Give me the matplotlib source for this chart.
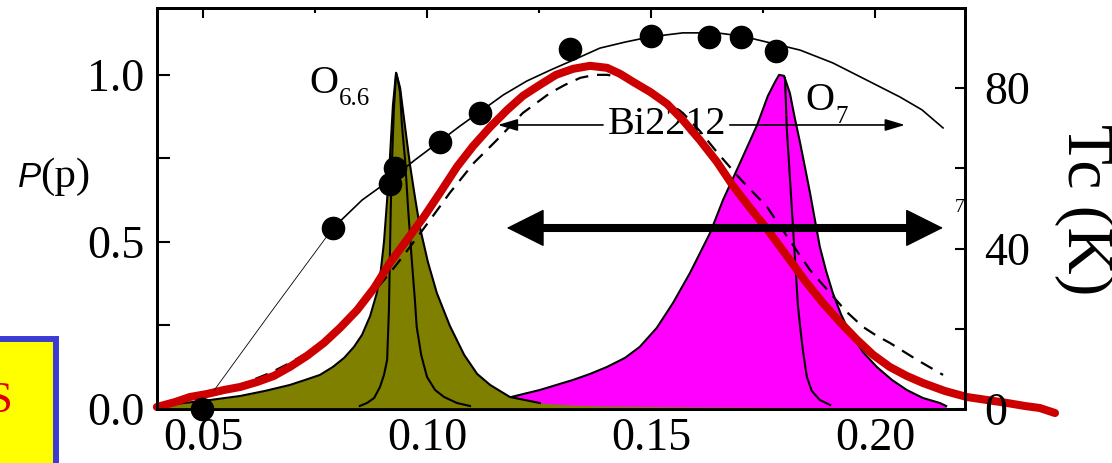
import matplotlib
matplotlib.use("Agg")
import matplotlib.pyplot as plt
import matplotlib.ticker as mticker
from matplotlib.patches import Rectangle

plt.rcParams.update({
    "font.family": ["Liberation Serif", "DejaVu Serif"],
    "axes.linewidth": 2.0,
})

OLIVE = "#808000"
MAGENTA = "#FF00FF"
RED = "#CC0000"
BLUE = "#3C3CD2"

# ── DATA (doping p on x) ──────────────────────────────────────────────────────
# red thick curve, P(p)
red_p = [0.0397, 0.0438, 0.0471, 0.0509, 0.0547, 0.0583, 0.0621, 0.0658, 0.0694,
         0.0732, 0.0770, 0.0806, 0.0844, 0.0882, 0.0917, 0.0955, 0.0993, 0.1029,
         0.1067, 0.1103, 0.1141, 0.1179, 0.1214, 0.1252, 0.1288, 0.1326, 0.1364,
         0.1402, 0.1431, 0.1460, 0.1498, 0.1536, 0.1571, 0.1609, 0.1647, 0.1683,
         0.1721, 0.1759, 0.1810, 0.1846, 0.1884, 0.1922, 0.1960, 0.1996, 0.2033,
         0.2071, 0.2107, 0.2156, 0.2205, 0.2250, 0.2295, 0.2335, 0.2368, 0.2402]
red_P = [0.006, 0.021, 0.036, 0.045, 0.057, 0.066, 0.081, 0.099, 0.126,
         0.159, 0.198, 0.243, 0.296, 0.362, 0.437, 0.506, 0.575, 0.647,
         0.725, 0.787, 0.844, 0.895, 0.937, 0.970, 1.000, 1.018, 1.027,
         1.021, 1.003, 0.979, 0.949, 0.913, 0.865, 0.805, 0.740, 0.668,
         0.602, 0.539, 0.446, 0.380, 0.317, 0.260, 0.207, 0.162, 0.126,
         0.099, 0.078, 0.054, 0.036, 0.027, 0.018, 0.009, 0.003, -0.012]

# dashed curve, P(p)
dash_p = [0.0426, 0.0493, 0.0583, 0.0650, 0.0694, 0.0732, 0.0761, 0.0792, 0.0828,
          0.0866, 0.0904, 0.0933, 0.0962, 0.1007, 0.1051, 0.1105, 0.1156, 0.1214,
          0.1275, 0.1308, 0.1342, 0.1375, 0.1402, 0.1431, 0.1460, 0.1491, 0.1520,
          0.1571, 0.1609, 0.1647, 0.1699, 0.1759, 0.1806, 0.1855, 0.1900, 0.1935,
          0.1973, 0.2004, 0.2033, 0.2094, 0.2152]
dash_P = [0.018, 0.039, 0.072, 0.108, 0.138, 0.168, 0.195, 0.228, 0.272,
          0.326, 0.386, 0.434, 0.485, 0.566, 0.647, 0.737, 0.805, 0.886,
          0.946, 0.970, 0.991, 1.000, 1.000, 0.994, 0.982, 0.961, 0.934,
          0.886, 0.832, 0.769, 0.689, 0.605, 0.512, 0.416, 0.347, 0.293,
          0.246, 0.219, 0.198, 0.147, 0.102]

# O6.6 distribution (olive) and its narrow component
olive_p = [0.0397, 0.0458, 0.0516, 0.0583, 0.0638, 0.0694, 0.0728, 0.0761, 0.0790,
           0.0815, 0.0837, 0.0855, 0.0873, 0.0888, 0.0897, 0.0904, 0.0911, 0.0917,
           0.0924, 0.0931, 0.0940, 0.0949, 0.0962, 0.0973, 0.0984, 0.1002, 0.1022,
           0.1051, 0.1083, 0.1112, 0.1141, 0.1185, 0.1252, 0.1319, 0.1386, 0.1609,
           0.2145]
olive_P = [0.009, 0.018, 0.027, 0.039, 0.054, 0.072, 0.087, 0.102, 0.126,
           0.153, 0.186, 0.222, 0.278, 0.347, 0.416, 0.500, 0.626, 0.746,
           0.910, 1.006, 0.961, 0.865, 0.731, 0.635, 0.545, 0.440, 0.347,
           0.249, 0.162, 0.105, 0.072, 0.036, 0.018, 0.012, 0.009, 0.006,
           0.003]
in66_p = [0.0850, 0.0866, 0.0882, 0.0895, 0.0904, 0.0911, 0.0915, 0.0917, 0.0919,
          0.0922, 0.0926, 0.0931, 0.0935, 0.0940, 0.0944, 0.0951, 0.0958, 0.0966,
          0.0973, 0.0977, 0.0987, 0.1000, 0.1018, 0.1038, 0.1067, 0.1096]
in66_P = [0.009, 0.018, 0.033, 0.066, 0.102, 0.147, 0.296, 0.446, 0.596,
          0.746, 0.895, 1.006, 0.985, 0.946, 0.850, 0.746, 0.596, 0.446,
          0.326, 0.246, 0.162, 0.096, 0.057, 0.036, 0.018, 0.009]

# O7 distribution (magenta) and its narrow component
mag_p = [0.1029, 0.1107, 0.1179, 0.1252, 0.1326, 0.1364, 0.1402, 0.1442, 0.1475,
         0.1513, 0.1549, 0.1587, 0.1632, 0.1661, 0.1699, 0.1737, 0.1761, 0.1777,
         0.1786, 0.1797, 0.1810, 0.1821, 0.1833, 0.1844, 0.1855, 0.1866, 0.1877,
         0.1891, 0.1906, 0.1924, 0.1944, 0.1973, 0.2004, 0.2038, 0.2071, 0.2107,
         0.2145, 0.2159]
mag_P = [0.012, 0.021, 0.033, 0.057, 0.087, 0.105, 0.126, 0.153, 0.186,
         0.243, 0.317, 0.407, 0.527, 0.626, 0.737, 0.850, 0.937, 0.979,
         1.000, 0.997, 0.946, 0.871, 0.796, 0.722, 0.647, 0.566, 0.485,
         0.413, 0.347, 0.284, 0.228, 0.171, 0.126, 0.087, 0.057, 0.033,
         0.018, 0.009]
in7_p = [0.1799, 0.1801, 0.1803, 0.1810, 0.1817, 0.1824, 0.1828, 0.1833, 0.1839,
         0.1848, 0.1859, 0.1877, 0.1900]
in7_P = [0.991, 0.925, 0.844, 0.695, 0.545, 0.395, 0.311, 0.246, 0.177,
         0.096, 0.054, 0.027, 0.012]

# Tc dome (right axis)
dome_p = [0.0525, 0.0650, 0.0790, 0.0855, 0.0917, 0.0973, 0.1029, 0.1074, 0.1118,
          0.1170, 0.1223, 0.1275, 0.1326, 0.1386, 0.1442, 0.1498, 0.1571, 0.1647,
          0.1703, 0.1759, 0.1833, 0.1906, 0.1982, 0.2056, 0.2105, 0.2152]
dome_Tc = [4.7, 23.9, 45.1, 52.1, 57.1, 62.1, 66.8, 70.6, 74.1,
           78.3, 81.8, 84.5, 87.0, 90.0, 91.5, 92.8, 93.8, 93.8,
           93.0, 91.5, 89.5, 86.3, 82.0, 77.8, 74.6, 70.1]
dot_p = [0.0498, 0.0790, 0.0917, 0.0928, 0.1029, 0.1118, 0.1319, 0.1500, 0.1629,
         0.1701, 0.1779]
dot_Tc = [0.0, 45.1, 56.1, 60.1, 66.6, 73.8, 89.8, 93.0, 92.8, 92.8, 89.3]

x_ticks = [0.05, 0.10, 0.15, 0.20]
p_ticks = [0.0, 0.5, 1.0]
tc_ticks = [0, 40, 80]

# annotation anchors
bi_arrow_left = (0.1393, 0.1158)    # text edge -> tip
bi_arrow_right = (0.1676, 0.2067)
bi_y = 0.850
range_arrow = (0.1178, 0.2152)
range_y = 0.542

# ── FIGURE ────────────────────────────────────────────────────────────────────
fig = plt.figure(figsize=(11.12, 4.63), dpi=100)
ax = fig.add_axes([0.1412, 0.1166, 0.7266, 0.8661])
ax2 = ax.twinx()

# distributions
ax.fill_between(mag_p, mag_P, 0, color=MAGENTA, lw=0, zorder=2)
ax.plot(mag_p, mag_P, color="k", lw=1.5, zorder=2.1)
ax.plot(in7_p, in7_P, color="k", lw=1.5, zorder=2.2)
ax.fill_between(olive_p, olive_P, 0, color=OLIVE, lw=0, zorder=3)
ax.plot(olive_p[:33], olive_P[:33], color="k", lw=1.5, zorder=3.1)
ax.plot(in66_p, in66_P, color="k", lw=1.5, zorder=3.2)

ax.plot(dash_p, dash_P, color="k", lw=1.6, linestyle=(0, (6, 4)), zorder=4)
ax.plot(red_p, red_P, color=RED, lw=5.8, solid_capstyle="round",
        solid_joinstyle="round", zorder=5, clip_on=False)

# Bi2212 range arrows
ax.text(0.1536, bi_y, "Bi2212", fontsize=29, ha="center", va="center", zorder=4.5)
for x0, x1 in (bi_arrow_left, bi_arrow_right):
    ax.annotate("", xy=(x1, bi_y), xytext=(x0, bi_y),
                arrowprops=dict(arrowstyle="-|>,head_length=0.6,head_width=0.18",
                                lw=1.2, color="k", mutation_scale=20,
                                shrinkA=0, shrinkB=0), zorder=6)

# thick double arrow
ax.plot([range_arrow[0] + 0.006, range_arrow[1] - 0.006], [range_y, range_y],
        color="k", lw=5.8, solid_capstyle="butt", zorder=6)
ax.annotate("", xy=(range_arrow[1], range_y), xytext=(range_arrow[0], range_y),
            arrowprops=dict(arrowstyle="<|-|>,head_length=1.0,head_width=0.5",
                            lw=1.0, color="k", mutation_scale=25,
                            shrinkA=0, shrinkB=0), zorder=6)

# labels of the two distributions
ax.text(0.0737, 0.946, "O", fontsize=29, va="baseline")
ax.text(0.0803, 0.910, "6.6", fontsize=18, va="baseline")
ax.text(0.1844, 0.895, "O", fontsize=29, va="baseline")
ax.text(0.1911, 0.856, "7", fontsize=18, va="baseline")
ax.text(0.2178, 0.602, "7", fontsize=14, va="center")

# Tc dome + data
ax2.plot(dome_p[:3], dome_Tc[:3], color="k", lw=0.6, zorder=3)
ax2.plot(dome_p[2:], dome_Tc[2:], color="k", lw=1.2, zorder=3)
ax2.plot(dot_p, dot_Tc, "o", color="k", ms=16, clip_on=False, zorder=5)

# ── AXES ──────────────────────────────────────────────────────────────────────
ax.set_xlim(0.03973, 0.2201)
ax.set_ylim(0, 1.2)
ax2.set_ylim(0, 100)

ax.xaxis.set_major_locator(mticker.FixedLocator(x_ticks))
ax.xaxis.set_minor_locator(mticker.MultipleLocator(0.025))
ax.xaxis.set_major_formatter(mticker.FormatStrFormatter("%.2f"))
ax.yaxis.set_major_locator(mticker.FixedLocator(p_ticks))
ax.yaxis.set_minor_locator(mticker.MultipleLocator(0.25))
ax.yaxis.set_major_formatter(mticker.FormatStrFormatter("%.1f"))
ax2.yaxis.set_major_locator(mticker.FixedLocator(tc_ticks))
ax2.yaxis.set_minor_locator(mticker.FixedLocator([20, 60]))

ax.tick_params(axis="x", which="major", direction="in", length=7, width=1.5,
               top=True, labelsize=33, pad=6)
ax.tick_params(axis="x", which="minor", direction="in", length=3.5, width=1.5, top=True)
ax.tick_params(axis="y", which="both", direction="in", length=9.4, width=1.5,
               right=False, labelsize=33, pad=9)
ax2.tick_params(axis="y", which="both", direction="in", length=7.5, width=1.5,
                labelsize=33, pad=14)

# axis titles
fig.text(18 / 1112, 1 - 187 / 463, "P", fontsize=25, style="italic",
         family="Liberation Sans", va="baseline")
fig.text(40 / 1112, 1 - 187 / 463, "(p)", fontsize=31, va="baseline")
fig.text(1084 / 1112, 1 - 210 / 463, "Tc (K)", fontsize=47, rotation=270,
         ha="center", va="center")

# cropped yellow box in the lower left corner
fig.add_artist(Rectangle((-0.02, -0.05), 56 / 1112 + 0.02, 1 - 339 / 463 + 0.05,
                         transform=fig.transFigure, facecolor="#FFFF00",
                         edgecolor=BLUE, lw=4.3, clip_on=False))
fig.text(13 / 1112, 1 - 412 / 463, "S", color="#E00000", fontsize=32,
         ha="right", va="baseline")

fig.savefig("out.png", dpi=100)
